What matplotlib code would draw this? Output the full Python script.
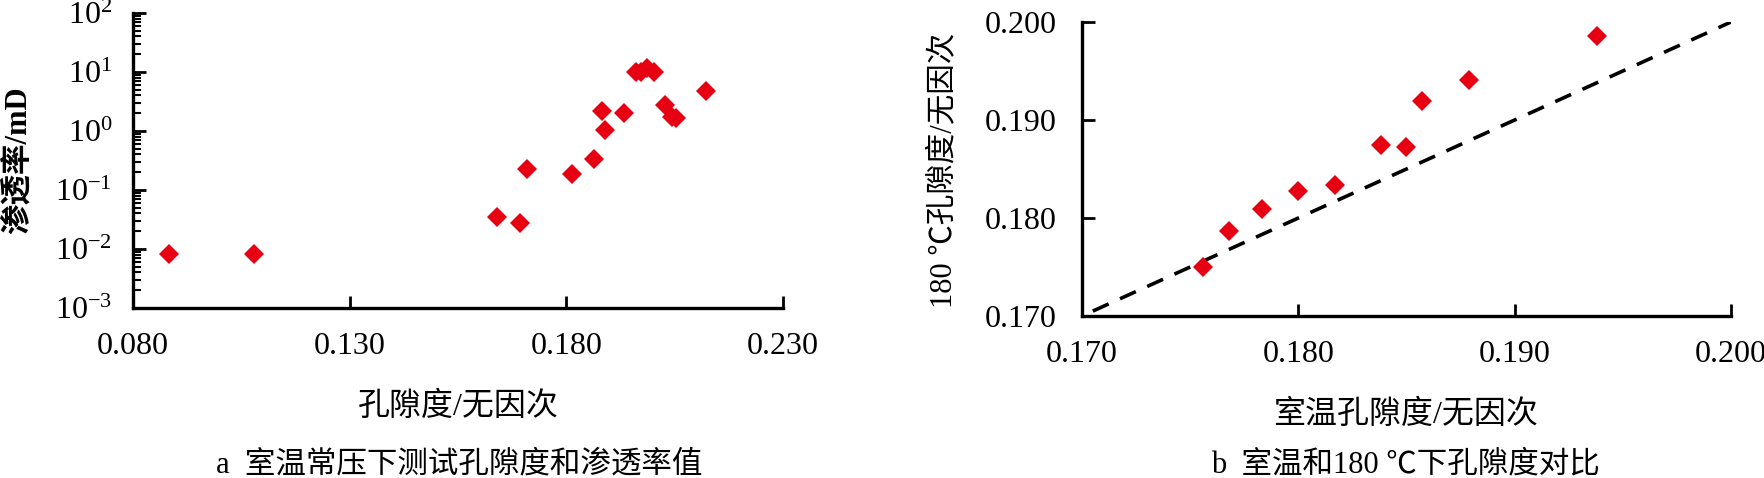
import matplotlib
matplotlib.use("Agg")
import matplotlib.pyplot as plt
from matplotlib.ticker import LogLocator, NullFormatter, LogFormatterMathtext

plt.rcParams['font.family'] = ['Liberation Serif', 'Noto Sans CJK SC']
plt.rcParams['mathtext.fontset'] = 'custom'
plt.rcParams['mathtext.rm'] = 'Liberation Serif'
plt.rcParams['mathtext.it'] = 'Liberation Serif:italic'
plt.rcParams['mathtext.bf'] = 'Liberation Serif:bold'
plt.rcParams['lines.scale_dashes'] = False

# a: room temperature porosity vs permeability
poro_a = [0.0882, 0.1079, 0.1641, 0.1692, 0.1710, 0.1813, 0.1863, 0.1882, 0.1889,
          0.1934, 0.1960, 0.1972, 0.1986, 0.2003, 0.2027, 0.2043, 0.2053, 0.2123]
perm_a = [0.0082, 0.0082, 0.0345, 0.0279, 0.227, 0.189, 0.331, 2.21, 1.03,
          2.0, 10.1, 10.1, 11.8, 10.1, 2.73, 1.75, 1.64, 4.76]

# b: porosity at room temperature vs 180 C
poro_room = [0.1756, 0.1768, 0.1783, 0.1800, 0.1817, 0.1838, 0.1850, 0.1857, 0.1879, 0.1938]
poro_180 = [0.1750, 0.1787, 0.1809, 0.1828, 0.1834, 0.1875, 0.1872, 0.1919, 0.1941, 0.1986]
ref_line = [0.1705, 0.200]

xticks_a = [0.08, 0.13, 0.18, 0.23]
xticklabels_a = ['0.080', '0.130', '0.180', '0.230']
ticks_b = [0.17, 0.18, 0.19, 0.20]
ticklabels_b = ['0.170', '0.180', '0.190', '0.200']

W, H = 1765, 478
red = '#e60012'
fs = 22
tfs = 23

fig = plt.figure(figsize=(W / 100, H / 100), dpi=100)

# ---- plot a ----
ax1 = fig.add_axes([133 / W, 1 - 308 / H, 650 / W, 295 / H])
ax1.plot(poro_a, perm_a, 'D', color=red, ms=10.5, mew=0, clip_on=False)
ax1.set_yscale('log')
ax1.set_xlim(0.08, 0.23)
ax1.set_ylim(1e-3, 1e2)
ax1.set_xticks(xticks_a)
ax1.set_xticklabels(xticklabels_a)
ax1.yaxis.set_major_locator(LogLocator(base=10, numticks=10))
ax1.yaxis.set_major_formatter(LogFormatterMathtext())
ax1.yaxis.set_minor_locator(LogLocator(base=10, subs=range(2, 10), numticks=10))
ax1.yaxis.set_minor_formatter(NullFormatter())
ax1.tick_params(axis='x', direction='in', length=9, width=2, pad=17, labelsize=tfs)
ax1.tick_params(axis='y', which='major', direction='in', length=9, width=2, pad=15, labelsize=tfs)
ax1.tick_params(axis='y', which='minor', direction='in', length=6, width=1.5)

# ---- plot b ----
ax2 = fig.add_axes([1082 / W, 1 - 316 / H, 649 / W, 294 / H])
ax2.plot(ref_line, ref_line, color='black', lw=2.6, dashes=(12.5, 9))
ax2.plot(poro_room, poro_180, 'D', color=red, ms=10.5, mew=0, clip_on=False)
ax2.set_xlim(0.17, 0.20)
ax2.set_ylim(0.17, 0.20)
ax2.set_xticks(ticks_b)
ax2.set_xticklabels(ticklabels_b)
ax2.set_yticks(ticks_b)
ax2.set_yticklabels(ticklabels_b)
ax2.tick_params(axis='x', direction='in', length=9, width=2, pad=17, labelsize=tfs)
ax2.tick_params(axis='y', direction='in', length=9, width=2, pad=18, labelsize=tfs)

for ax in (ax1, ax2):
    ax.spines['top'].set_visible(False)
    ax.spines['right'].set_visible(False)
    ax.spines['left'].set_linewidth(2.4)
    ax.spines['bottom'].set_linewidth(2.4)

# labels and captions
fig.text(458 / W, 1 - 407 / H, '孔隙度/无因次', ha='center', va='center', fontsize=23)
fig.text(459 / W, 1 - 465 / H, 'a  室温常压下测试孔隙度和渗透率值', ha='center', va='center', fontsize=fs)
fig.text(18 / W, 1 - 160 / H, '渗透率/mD', rotation=90, ha='center', va='center',
         fontsize=fs, fontweight='bold')
fig.text(1406 / W, 1 - 415 / H, '室温孔隙度/无因次', ha='center', va='center', fontsize=23)
fig.text(1405 / W, 1 - 465 / H, 'b  室温和180 ℃下孔隙度对比', ha='center', va='center', fontsize=fs)
fig.text(944 / W, 1 - 170 / H, '180 ℃孔隙度/无因次', rotation=90, ha='center', va='center', fontsize=fs)

fig.savefig('out.png', dpi=100)
